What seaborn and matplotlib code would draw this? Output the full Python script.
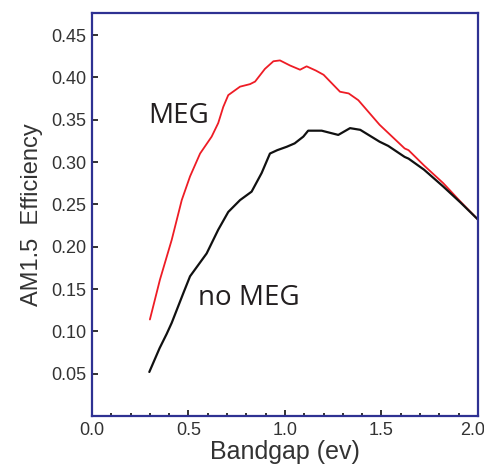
import matplotlib
matplotlib.use("Agg")
import matplotlib.pyplot as plt
import matplotlib.transforms as mtransforms
import seaborn as sns
import pandas as pd
from matplotlib.ticker import MultipleLocator, FixedLocator

# Data
meg_x = [0.30, 0.352, 0.413, 0.465, 0.508, 0.56, 0.62, 0.654, 0.68, 0.706, 0.767,
         0.819, 0.845, 0.896, 0.94, 0.974, 1.026, 1.078, 1.112, 1.16,
         1.20, 1.285, 1.33, 1.38, 1.49, 1.62, 1.64, 1.72, 1.82, 1.91, 2.0]
meg_y = [0.114, 0.161, 0.208, 0.255, 0.283, 0.310, 0.330, 0.346, 0.365, 0.379, 0.389,
         0.392, 0.395, 0.410, 0.419, 0.420, 0.414, 0.409, 0.413, 0.408,
         0.403, 0.383, 0.381, 0.373, 0.344, 0.316, 0.314, 0.296, 0.275, 0.253, 0.232]

nomeg_x = [0.297, 0.350, 0.387, 0.413, 0.473, 0.508, 0.594, 0.654, 0.706, 0.767, 0.827, 0.879,
           0.922, 0.96, 1.009, 1.05, 1.095, 1.12, 1.19, 1.276, 1.337, 1.39, 1.49, 1.535,
           1.62, 1.64, 1.72, 1.82, 1.91, 2.0]
nomeg_y = [0.052, 0.080, 0.097, 0.110, 0.145, 0.165, 0.192, 0.220, 0.241, 0.255, 0.265, 0.287,
           0.310, 0.314, 0.318, 0.322, 0.330, 0.337, 0.337, 0.332, 0.340, 0.338, 0.324, 0.319,
           0.306, 0.304, 0.291, 0.271, 0.252, 0.232]

x_ticks = [0.0, 0.5, 1.0, 1.5, 2.0]
x_tick_labels = ["0.0", "0.5", "1.0", "1.5", "2.0"]
y_ticks = [0.05, 0.10, 0.15, 0.20, 0.25, 0.30, 0.35, 0.40, 0.45]
y_tick_labels = ["0.05", "0.10", "0.15", "0.20", "0.25", "0.30", "0.35", "0.40", "0.45"]

sns.set_style("white")
plt.rcParams['font.family'] = ['Liberation Sans', 'DejaVu Sans']

df_meg = pd.DataFrame({"x": meg_x, "y": meg_y})
df_nomeg = pd.DataFrame({"x": nomeg_x, "y": nomeg_y})

fig = plt.figure(figsize=(4.85, 4.70), dpi=100)
ax = fig.add_axes([92/485, 1 - 416/470, (478-92)/485, (416-13)/470])

sns.lineplot(data=df_meg, x="x", y="y", ax=ax, color="#EE1C25", linewidth=1.3, sort=False)
sns.lineplot(data=df_nomeg, x="x", y="y", ax=ax, color="#111111", linewidth=1.6, sort=False)

ax.set_xlim(0.0, 2.0)
ax.set_ylim(0.0, 0.476)

ax.xaxis.set_major_locator(FixedLocator(x_ticks))
ax.set_xticklabels(x_tick_labels)
ax.xaxis.set_minor_locator(MultipleLocator(0.1))
ax.yaxis.set_major_locator(FixedLocator(y_ticks))
ax.set_yticklabels(y_tick_labels)

ax.tick_params(axis="both", which="major", direction="in", length=4, width=1.3,
               color="#222222", labelsize=13, labelcolor="#333333", pad=4,
               left=True, bottom=True, top=False, right=False)
ax.tick_params(axis="x", which="minor", direction="in", length=2.5, width=1.3,
               color="#222222", bottom=True, top=False)

# keep the last x tick label inside the canvas
last = ax.get_xticklabels()[-1]
last.set_transform(last.get_transform() +
                   mtransforms.ScaledTranslation(-5/100, 0, fig.dpi_scale_trans))

for s in ax.spines.values():
    s.set_color("#2E3192")
    s.set_linewidth(1.6)
    s.set_visible(True)

ax.set_xlabel("Bandgap (ev)", fontsize=18, color="#333333", labelpad=1)
ax.set_ylabel("AM1.5  Efficiency", fontsize=17, color="#333333", labelpad=6)

ax.text(0.29, 0.346, "MEG", fontsize=20, family=["Open Sans", "DejaVu Sans"],
        color="#231F20", ha="left", va="baseline")
ax.text(0.549, 0.131, "no MEG", fontsize=20, family=["Open Sans", "DejaVu Sans"],
        color="#231F20", ha="left", va="baseline")

fig.savefig("out.png", dpi=100)
